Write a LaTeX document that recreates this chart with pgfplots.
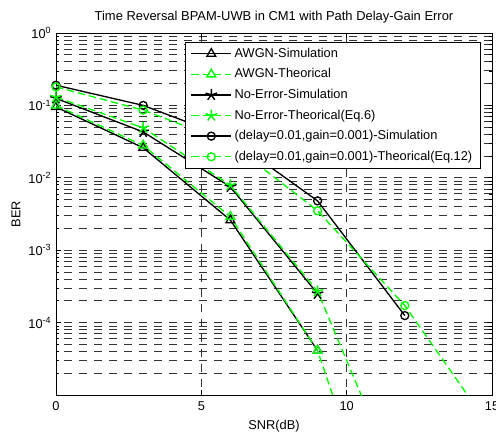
\documentclass[border=0pt]{standalone}
\usepackage{pgfplots}
\pgfplotsset{compat=1.18}
\usepackage{fontspec}
\setmainfont{Liberation Sans}
\definecolor{mgreen}{RGB}{0,255,0}

\begin{document}
\begin{tikzpicture}[x=1pt,y=1pt]
\begin{semilogyaxis}[
    scale only axis,
    width=327pt, height=271.5pt,
    xmin=0, xmax=15,
    ymin=1e-5, ymax=1,
    xtick={0,5,10,15},
    xticklabels={0,5,10,15},
    ytick={1e-5,1e-4,1e-3,1e-2,1e-1,1},
    yticklabels={,10\textsuperscript{-4},10\textsuperscript{-3},10\textsuperscript{-2},10\textsuperscript{-1},10\textsuperscript{0}},
    tick align=inside,
    major tick length=4pt,
    minor tick length=2pt,
    tick style={black, line width=0.5pt},
    xmajorgrids, ymajorgrids, yminorgrids,
    major grid style={black!80, dash pattern=on 6pt off 5.25pt, dash phase=5.25pt, line width=0.55pt},
    minor grid style={black!80, dash pattern=on 6pt off 5.25pt, dash phase=5.25pt, line width=0.55pt},
    axis line style={black, line width=0.6pt},
    tick label style={font=\fontsize{9.6}{11}\selectfont},
    xticklabel style={yshift=-1.5pt},
    legend style={at={(axis description cs:1,1)}, anchor=north east, xshift=-8.5pt, yshift=-6.5pt,
        draw=black, line width=0.6pt, fill=white, font=\fontsize{9.6}{11}\selectfont,
        cells={anchor=west}, row sep=3pt, inner xsep=4pt, inner ysep=2.5pt},
    legend image code/.code={
        \draw[mark repeat=2, mark phase=2] plot coordinates {(0pt,0pt) (15pt,0pt) (30pt,0pt)};
    },
]
% AWGN simulation
\addplot[black, line width=1pt, mark=triangle, mark size=3.8pt, mark options={solid, line width=1pt}]
coordinates {(0,0.095) (3,0.026) (6,0.0026) (9,4.1e-5)};
% AWGN theoretical
\addplot[mgreen, line width=1pt, dash pattern=on 5.5pt off 3pt, mark=triangle, mark size=3.8pt, mark options={solid, line width=1pt}]
coordinates {(0,0.1) (3,0.028) (6,0.0029) (9,4.1e-5) (12,1.15e-8)};
% No-error simulation
\addplot[black, line width=1pt, mark=star, mark size=4.5pt, mark options={solid, line width=1.1pt}]
coordinates {(0,0.125) (3,0.043) (6,0.0075) (9,2.5e-4)};
% No-error theoretical
\addplot[mgreen, line width=1pt, dash pattern=on 5.5pt off 3pt, mark=star, mark size=4.5pt, mark options={solid, line width=1.1pt}]
coordinates {(0,0.13) (3,0.049) (6,0.0079) (9,2.7e-4) (12,3.7e-7)};
% delay/gain error simulation
\addplot[black, line width=1pt, mark=o, mark size=3pt, mark options={solid, line width=1pt}]
coordinates {(0,0.19) (3,0.1) (6,0.035) (9,0.0048) (12,1.25e-4)};
% delay/gain error theoretical
\addplot[mgreen, line width=1pt, dash pattern=on 5.5pt off 3pt, mark=o, mark size=3pt, mark options={solid, line width=1pt}]
coordinates {(0,0.18) (3,0.086) (6,0.03) (9,0.0035) (12,1.72e-4) (15,3.3e-6)};
\legend{AWGN-Simulation, AWGN-Theorical, No-Error-Simulation, No-Error-Theorical(Eq.6),
  (delay=0.01{,}gain=0.001)-Simulation, (delay=0.01{,}gain=0.001)-Theorical(Eq.12)}
\end{semilogyaxis}
% title and axis labels, placed against the axis box
\node[font=\fontsize{9.7}{11}\selectfont, anchor=center] at ([yshift=12pt]current axis.north)
  {Time Reversal BPAM-UWB in CM1 with Path Delay-Gain Error};
\node[font=\fontsize{9.6}{11}\selectfont, anchor=center] at ([yshift=-23.25pt]current axis.south) {SNR(dB)};
\node[font=\fontsize{9.6}{11}\selectfont, anchor=center, rotate=90] at ([xshift=-30pt]current axis.west) {BER};
\pgfresetboundingbox
\path[use as bounding box] ([xshift=-42pt,yshift=-30.75pt]current axis.south west) rectangle ([xshift=3pt,yshift=24.75pt]current axis.north east);
\end{tikzpicture}
\end{document}
